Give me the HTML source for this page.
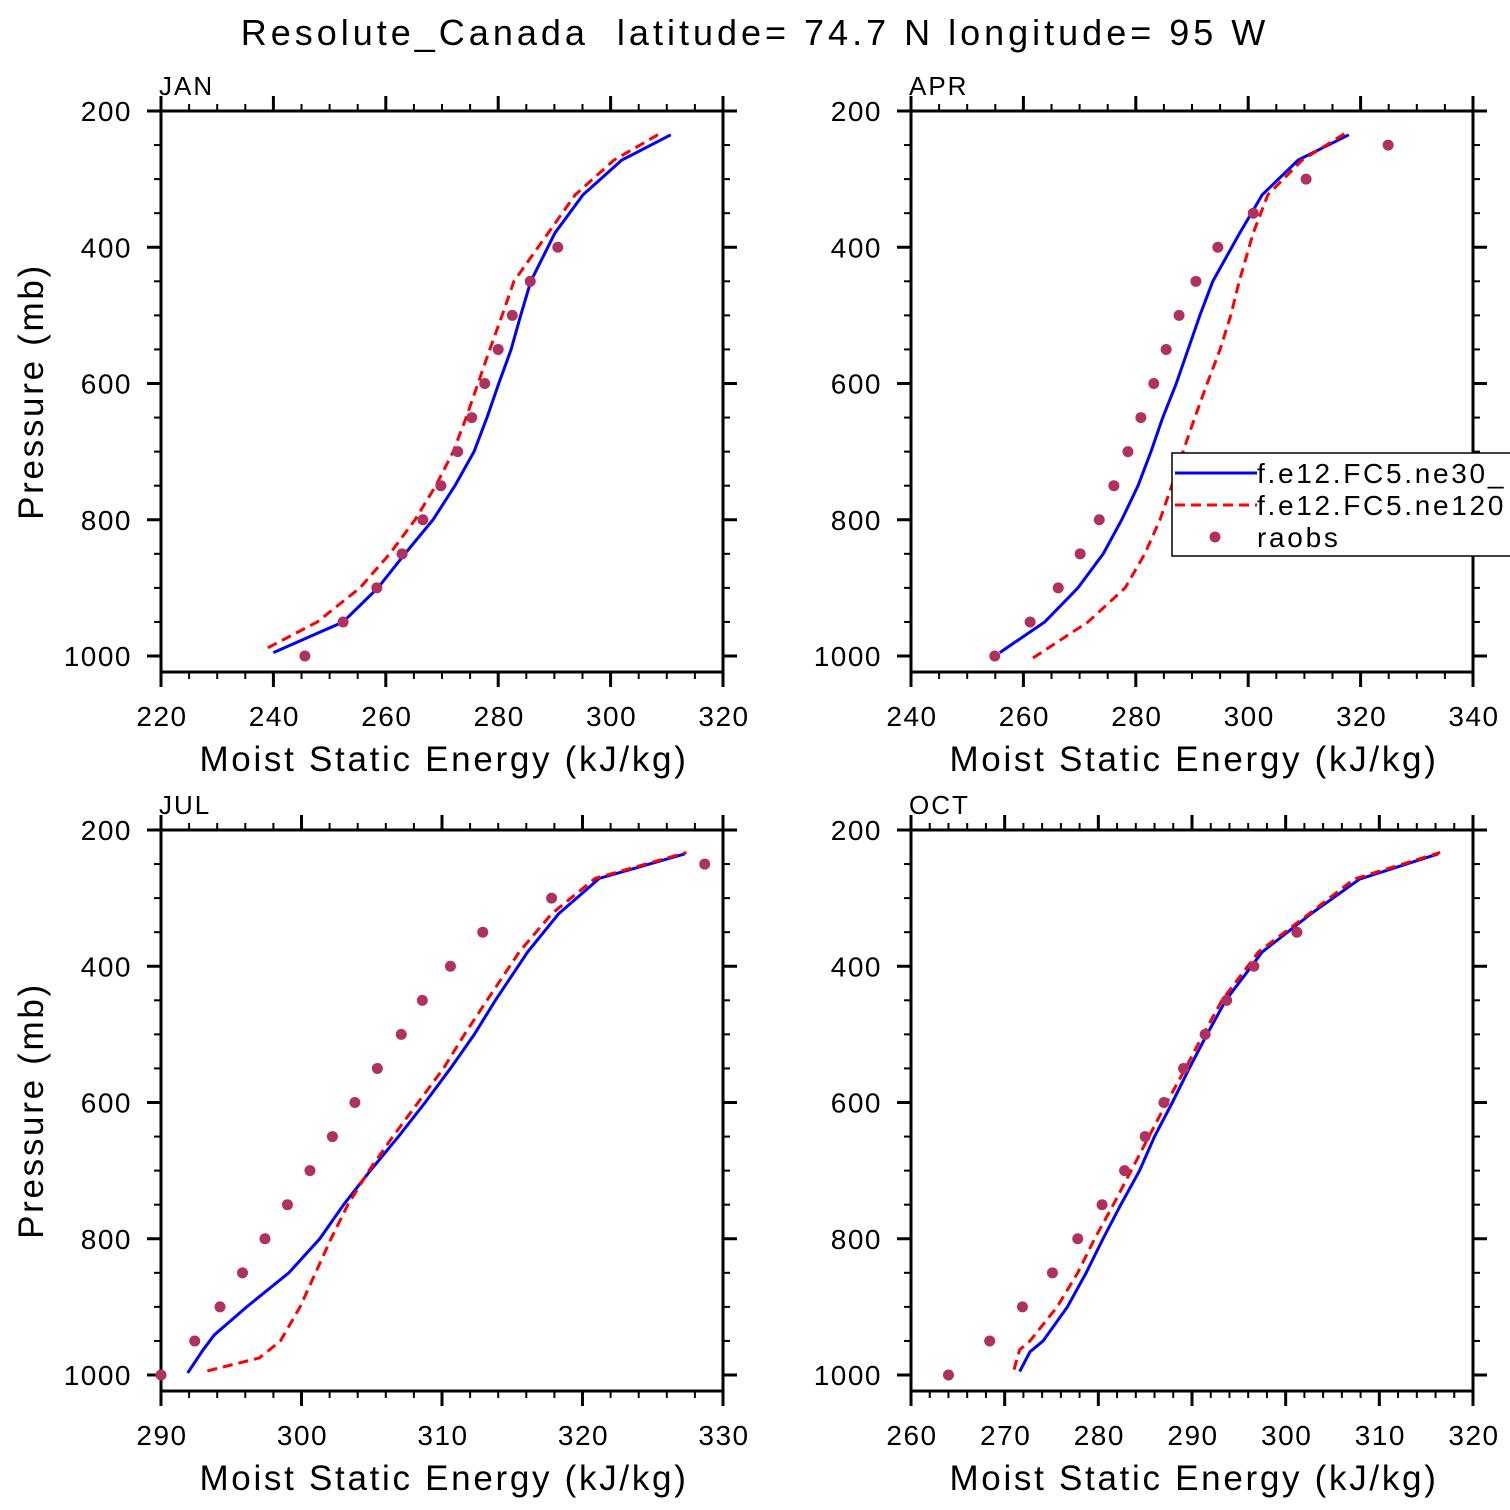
<!DOCTYPE html>
<html><head><meta charset="utf-8"><style>
html,body{margin:0;padding:0;background:#fff;}
svg{display:block;font-family:"Liberation Sans",sans-serif;}
</style></head><body>
<svg id="chart" width="1510" height="1510" viewBox="0 0 1510 1510" xmlns="http://www.w3.org/2000/svg">
<text x="755" y="45" font-size="36" letter-spacing="4" text-anchor="middle" fill="#000" xml:space="preserve">Resolute_Canada  latitude= 74.7 N longitude= 95 W</text>
</svg>
<script>
// ---- data ----
const obsLevels = [1000,950,900,850,800,750,700,650,600,550,500,450,400,350,300,250];
const modelLevels = [995,950,900,850,800,750,700,650,600,550,500,450,379,323,272,235];
const modelLevels2 = [988,950,900,850,800,750,700,650,600,550,500,450,379,323,272,233];

const janObs = [245.6,252.4,258.4,262.9,266.6,269.8,272.8,275.3,277.6,280.0,282.5,285.7,290.6];
const janBlue = [240,252.4,258.6,263.4,268.4,272.3,275.7,278,280.1,282.3,284,285.8,290.1,295.1,302,310.7];
const janRed = [239,247.8,255.4,260.7,265.2,268.9,272,274.3,276.4,278.5,280.7,282.8,288.9,293.7,300.6,308.8];

const aprObs = [254.9,261.2,266.2,270.1,273.5,276.1,278.6,280.9,283.2,285.4,287.7,290.7,294.6,300.9,310.3,324.9];
const aprBlue = [255.8,263.8,269.7,274.2,277.5,280.4,282.7,284.8,287.2,289.3,291.4,293.7,298.5,302.5,308.9,317.9];
const aprRed = [261.7,271.5,278.1,281.6,284.3,286.4,288.4,290.5,292.7,295,296.9,298.4,300.9,303.5,309.6,317.2];

const julLevels = [997,963,941,900,850,800,750,700,650,600,550,500,450,379,323,271,235];
const julBlue = [291.9,293,293.8,296.1,299.1,301.3,303,304.9,306.9,308.8,310.6,312.3,313.8,316.1,318.3,321.2,327.3];
const julRedLevels = [994,975,950,900,850,800,750,700,650,600,550,500,450,379,323,271,233];
const julRed = [293.3,297,298.5,299.9,301,302.1,303.3,304.8,306.5,308.3,310.1,311.6,313.2,315.5,317.8,320.9,327.4];
const julObs = [290,292.4,294.2,295.8,297.4,299,300.6,302.2,303.8,305.4,307.1,308.6,310.6,312.9,317.8,328.7];

const octLevels = [995,966,950,900,850,800,750,700,650,600,550,500,450,379,323,272,235];
const octBlue = [271.6,272.7,274.1,276.7,278.7,280.5,282.4,284.4,286,287.9,289.7,291.6,293.6,297.5,302.7,307.9,316.3];
const octRedLevels = [992,963,950,900,850,800,750,700,650,600,550,500,450,379,323,272,233];
const octRed = [271,271.6,272.7,275.6,277.8,279.6,281.6,283.5,285.4,287.3,289.3,291.2,293.2,297.1,302.5,307.3,316.5];
const octObs = [264,268.4,271.9,275.1,277.8,280.4,282.8,285,287,289.1,291.4,293.7,296.6,301.2];

const yTicks = [200,400,600,800,1000];

const panels = [
 {name:'jan', label:'JAN', x0:161, y0:111, xmin:220, xmax:320, xstep:20, xminor:5, blue:[modelLevels,janBlue], red:[modelLevels2,janRed], obs:janObs, ylab:true},
 {name:'apr', label:'APR', x0:911, y0:111, xmin:240, xmax:340, xstep:20, xminor:5, blue:[modelLevels,aprBlue], red:[[1003].concat(modelLevels2.slice(1)),aprRed], obs:aprObs, ylab:false, legend:true},
 {name:'jul', label:'JUL', x0:161, y0:830, xmin:290, xmax:330, xstep:10, xminor:2, blue:[julLevels,julBlue], red:[julRedLevels,julRed], obs:julObs, ylab:true},
 {name:'oct', label:'OCT', x0:911, y0:830, xmin:260, xmax:320, xstep:10, xminor:2, blue:[octLevels,octBlue], red:[octRedLevels,octRed], obs:octObs, ylab:false}
];

const NS='http://www.w3.org/2000/svg';
const svg=document.getElementById('chart');
function mk(tag,attrs,parent){const e=document.createElementNS(NS,tag);for(const k in attrs)e.setAttribute(k,attrs[k]);(parent||svg).appendChild(e);return e;}

panels.forEach(p=>{
  const W=562, pxPerMb=0.68125;
  const bottom=p.y0+(1023.5-200)*pxPerMb;
  const xS=v=>p.x0+(v-p.xmin)/(p.xmax-p.xmin)*W;
  const yS=pr=>p.y0+(pr-200)*pxPerMb;
  const g=mk('g',{});
  
  
  const tk=mk('g',{stroke:'#000','stroke-width':2.5},g);
  
  
  for(let v=p.xmin; v<=p.xmax+1e-6; v+=p.xminor){
    const major=Math.abs(((v-p.xmin)/p.xstep)-Math.round((v-p.xmin)/p.xstep))<1e-6;
    const L=major?15:7, x=xS(v);
    mk('line',{x1:x,x2:x,y1:bottom,y2:bottom+L,'stroke-width':major?3:2},tk);
    mk('line',{x1:x,x2:x,y1:p.y0,y2:p.y0-L,'stroke-width':major?3:2},tk);
  }
  for(let pr=200; pr<=1000; pr+=50){
    const major=pr%200===0, L=major?14:7, y=yS(pr);
    mk('line',{x1:p.x0,x2:p.x0-L,y1:y,y2:y,'stroke-width':major?3:2},tk);
    mk('line',{x1:p.x0+W,x2:p.x0+W+L,y1:y,y2:y,'stroke-width':major?3:2},tk);
  }
  const frame=mk('rect',{x:p.x0,y:p.y0,width:W,height:bottom-p.y0,fill:'none',stroke:'#000','stroke-width':3},g);
  
  
  for(let v=p.xmin; v<=p.xmax+1e-6; v+=p.xstep){
    const t=mk('text',{x:xS(v)+1,y:bottom+54,'font-size':28,'letter-spacing':1.5,'text-anchor':'middle'},g);
    t.textContent=v;
    
    
  }
  yTicks.forEach(pr=>{
    const t=mk('text',{x:p.x0-29,y:yS(pr)+10,'font-size':28,'letter-spacing':1.5,'text-anchor':'end'},g);
    t.textContent=pr;
    
    
  });
  const pl=mk('text',{x:p.x0-2,y:p.y0-16,'font-size':26,'letter-spacing':2},g);
  pl.textContent=p.label;
  
  
  const xt=mk('text',{x:p.x0+W/2+2,y:bottom+99,'font-size':35,'letter-spacing':2.7,'text-anchor':'middle'},g);
  xt.textContent='Moist Static Energy (kJ/kg)';
  
  
  if(p.ylab){
    const cy=(p.y0+bottom)/2;
    const yt=mk('text',{x:43,y:cy,'font-size':35,'letter-spacing':2.7,'text-anchor':'middle',transform:'rotate(-90 43 '+cy+')'},g);
    yt.textContent='Pressure (mb)';
    
    
  }
  const bl=mk('polyline',{points:p.blue[1].map((v,i)=>xS(v)+','+yS(p.blue[0][i])).join(' '),fill:'none',stroke:'#0000ff','stroke-width':3},g);
  
  
  const rl=mk('polyline',{points:p.red[1].map((v,i)=>xS(v)+','+yS(p.red[0][i])).join(' '),fill:'none',stroke:'#ff0000','stroke-width':3,'stroke-dasharray':'10,6'},g);
  
  
  p.obs.forEach((v,i)=>{
    const c=mk('circle',{cx:xS(v),cy:yS(obsLevels[i]),r:5.5,fill:'#b03060'},g);
    
    
  });
  if(p.legend){
    const lg=mk('g',{},g);
    
    
    mk('rect',{x:1172,y:453,width:360,height:103,fill:'#fff',stroke:'#000','stroke-width':1.5},lg);
    mk('line',{x1:1175,x2:1257,y1:473,y2:473,stroke:'#0000ff','stroke-width':3},lg);
    mk('line',{x1:1175,x2:1257,y1:505,y2:505,stroke:'#ff0000','stroke-width':3,'stroke-dasharray':'10,6'},lg);
    mk('circle',{cx:1215,cy:537,r:5.5,fill:'#b03060'},lg);
    const t1=mk('text',{x:1257,y:483,'font-size':28,'letter-spacing':2.7},lg); t1.textContent='f.e12.FC5.ne30_';
    
    
    const t2=mk('text',{x:1257,y:515,'font-size':28,'letter-spacing':2.7},lg); t2.textContent='f.e12.FC5.ne120';
    
    
    const t3=mk('text',{x:1257,y:547,'font-size':28,'letter-spacing':2.7},lg); t3.textContent='raobs';
    
    
  }
});
</script>
</body></html>
